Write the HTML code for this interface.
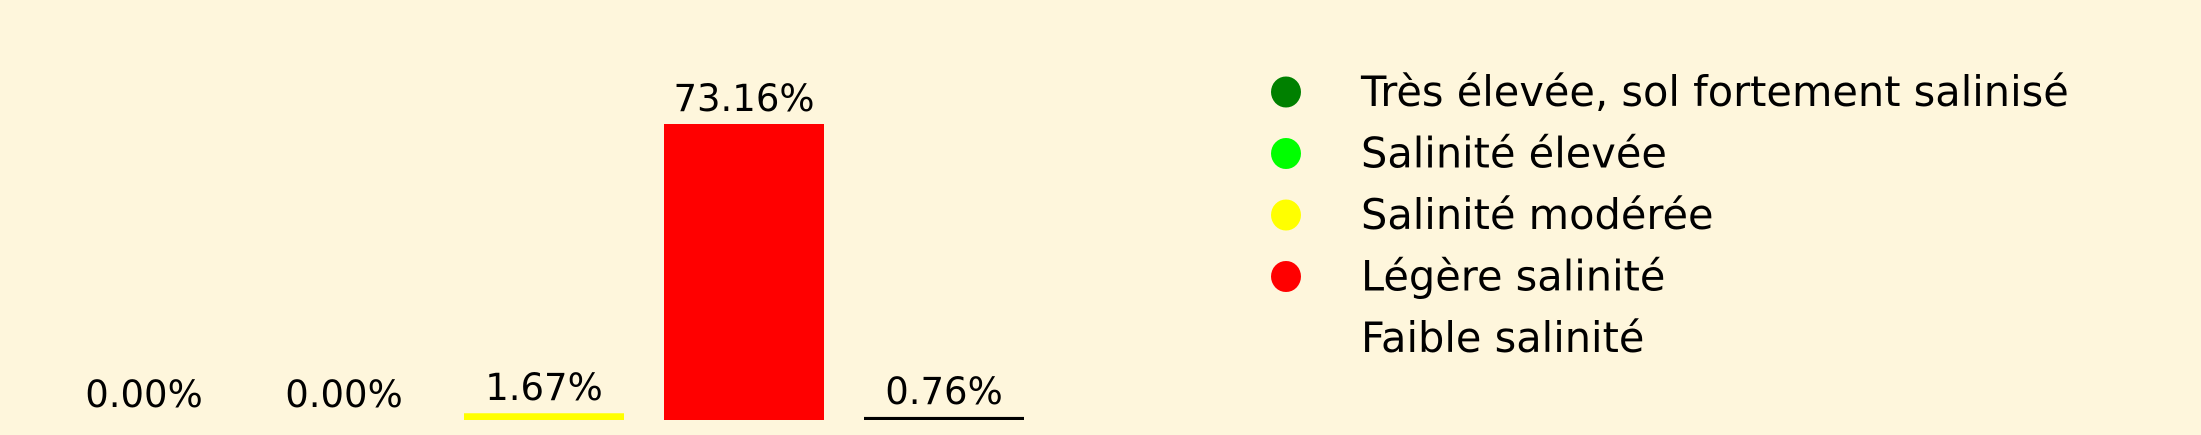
<!DOCTYPE html>
<html><head><meta charset="utf-8"><style>
html,body{margin:0;padding:0;background:#fef6dc;}
svg{display:block;font-family:"DejaVu Sans","Liberation Sans",sans-serif;}
</style></head><body>
<svg id="chart" width="2201" height="435" viewBox="0 0 2201 435">
<rect width="2201" height="435" fill="#fef6dc"/>
<g id="bars"></g>
<g id="legend"></g>
</svg>
<script>
const categories = ["Très élevée, sol fortement salinisé","Salinité élevée","Salinité modérée","Légère salinité","Faible salinité"];
const values = [0.00, 0.00, 1.67, 73.16, 0.76];
const colors = ["#008000","#00ff00","#ffff00","#ff0000","#000000"];
const legendColors = ["#008000","#00ff00","#ffff00","#ff0000","none"];

const NS = "http://www.w3.org/2000/svg";
const baseY = 420, pxPerUnit = 296/73.16;
function yScale(v){ return baseY - v*pxPerUnit; }
function xCenter(i){ return 144 + i*200; }
const barW = 160;
const gb = document.getElementById('bars');
values.forEach((v,i)=>{
  const r = document.createElementNS(NS,'rect');
  const top = yScale(v);
  r.setAttribute('x', xCenter(i)-barW/2);
  r.setAttribute('y', top);
  r.setAttribute('width', barW);
  r.setAttribute('height', baseY-top);
  r.setAttribute('fill', colors[i]);
  
  
  gb.appendChild(r);
  const t = document.createElementNS(NS,'text');
  t.setAttribute('x', xCenter(i));
  t.setAttribute('y', top-13);
  t.setAttribute('text-anchor','middle');
  t.setAttribute('font-size','37');
  t.setAttribute('fill','#000');
  t.textContent = v.toFixed(2) + '%';
  
  
  gb.appendChild(t);
});
const gl = document.getElementById('legend');
categories.forEach((c,i)=>{
  const cy = 92 + i*61.5;
  if (legendColors[i] !== 'none') {
    const e = document.createElementNS(NS,'ellipse');
    e.setAttribute('cx',1286); e.setAttribute('cy',cy);
    e.setAttribute('rx',15); e.setAttribute('ry',15.5);
    e.setAttribute('fill',legendColors[i]);
    
    
    gl.appendChild(e);
  }
  const t = document.createElementNS(NS,'text');
  t.setAttribute('x',1361); t.setAttribute('y',cy+14);
  t.setAttribute('font-size','41.5');
  t.setAttribute('fill','#000');
  t.textContent = c;
  
  
  gl.appendChild(t);
});
</script>
</body></html>
